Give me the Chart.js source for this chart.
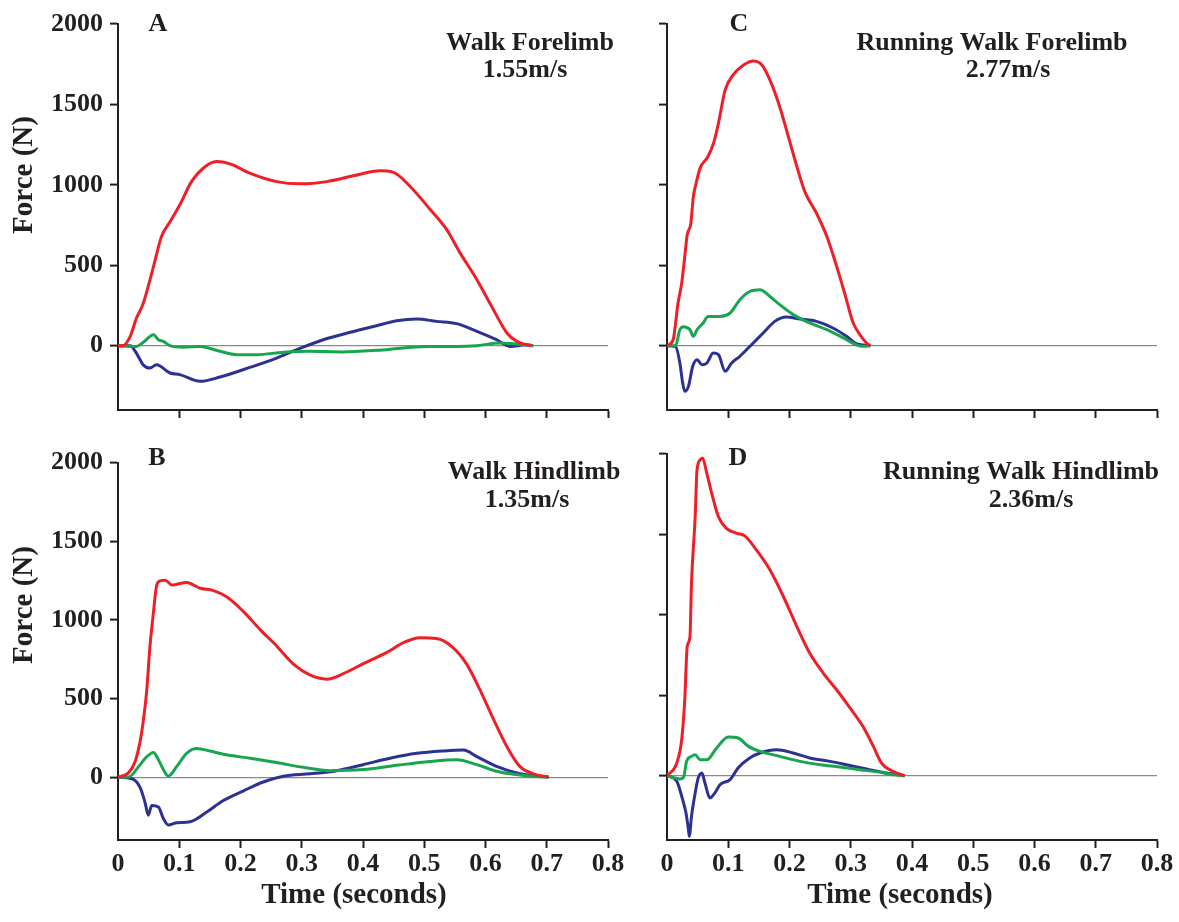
<!DOCTYPE html>
<html><head><meta charset="utf-8">
<script src="https://cdn.jsdelivr.net/npm/chart.js@4.4.1/dist/chart.umd.min.js"></script>
<style>
html,body{margin:0;padding:0;background:#fff;}
#wrap{position:relative;width:1179px;height:922px;overflow:hidden;background:#fff;}
canvas{position:absolute;}
</style></head><body>
<div id="wrap">
<canvas id="cA" width="640" height="440" style="left:0;top:0;width:640px;height:440px"></canvas>
<canvas id="cC" width="539" height="440" style="left:640px;top:0;width:539px;height:440px"></canvas>
<canvas id="cB" width="640" height="482" style="left:0;top:440px;width:640px;height:482px"></canvas>
<canvas id="cD" width="539" height="482" style="left:640px;top:440px;width:539px;height:482px"></canvas>
</div>
<script>
// ---- tick labels ----
const xTickLabels = ['0','0.1','0.2','0.3','0.4','0.5','0.6','0.7','0.8'];
const yTickValues = [0, 500, 1000, 1500, 2000];

// ---- A: Walk Forelimb 1.55 m/s ----
const aRedT = [0,0.008,0.02,0.03,0.041,0.058,0.071,0.085,0.101,0.12,0.139,0.161,0.183,0.215,0.259,0.297,0.341,0.384,0.428,0.449,0.477,0.509,0.537,0.558,0.586,0.613,0.635,0.651,0.665,0.675];
const aRedF = [0,0,58,170,260,493,679,770,876,1020,1103,1145,1130,1073,1020,1006,1020,1056,1087,1079,990,850,720,580,410,224,79,27,8,0];
const aGreenT = [0,0.03,0.041,0.058,0.066,0.074,0.085,0.107,0.134,0.1665,0.194,0.226,0.27,0.313,0.367,0.422,0.465,0.509,0.553,0.586,0.624,0.646,0.678];
const aGreenF = [0,-5,20,68,37,27,0,-10,-5,-35,-56,-56,-41,-35,-39,-29,-15,-5,-5,0,17,12,0];
const aBlueT = [0,0.02,0.03,0.041,0.052,0.063,0.085,0.101,0.134,0.1665,0.2155,0.259,0.292,0.335,0.379,0.422,0.455,0.488,0.52,0.553,0.586,0.618,0.64,0.666,0.678];
const aBlueF = [0,0,-46,-118,-139,-118,-170,-180,-222,-195,-135,-77,-25,37,83,124,155,166,151,137,89,37,-5,5,0];

// ---- C: Running Walk Forelimb 2.77 m/s ----
const cRedT = [0,0.01,0.018,0.024,0.029,0.033,0.039,0.043,0.047,0.054,0.067,0.076,0.084,0.095,0.108,0.125,0.141,0.155,0.168,0.184,0.195,0.212,0.225,0.244,0.261,0.277,0.29,0.304,0.315,0.325,0.332];
const cRedF = [0,37,265,389,555,689,762,927,1000,1104,1176,1259,1383,1590,1683,1745,1770,1745,1652,1486,1342,1114,958,824,679,493,327,141,68,20,0];
const cGreenT = [0,0.014,0.021,0.027,0.0375,0.043,0.049,0.059,0.067,0.086,0.103,0.119,0.135,0.152,0.168,0.184,0.206,0.233,0.261,0.288,0.309,0.32,0.332];
const cGreenF = [0,0,99,118,99,58,99,141,182,182,203,286,337,348,306,255,193,141,99,48,5,-4,0];
const cBlueT = [0,0.014,0.021,0.0256,0.029,0.035,0.042,0.049,0.057,0.065,0.0755,0.084,0.095,0.1055,0.119,0.138,0.157,0.176,0.195,0.217,0.244,0.271,0.293,0.309,0.32,0.332];
const cBlueF = [0,-5,-108,-232,-284,-253,-128,-87,-118,-108,-46,-56,-159,-108,-66,6,79,151,178,166,151,110,58,12,5,0];

// ---- B: Walk Hindlimb 1.35 m/s ----
const bRedT = [0,0.017,0.028,0.036,0.041,0.047,0.052,0.058,0.063,0.069,0.077,0.088,0.112,0.134,0.156,0.178,0.205,0.232,0.259,0.286,0.314,0.341,0.368,0.4,0.439,0.466,0.493,0.52,0.547,0.569,0.591,0.613,0.635,0.656,0.678,0.703];
const bRedF = [0,27,99,224,348,555,824,1052,1217,1248,1252,1222,1238,1201,1186,1145,1052,938,834,720,648,623,658,720,793,855,886,882,824,720,555,368,193,68,21,0];
const bGreenT = [0,0.017,0.036,0.047,0.058,0.066,0.074,0.082,0.096,0.112,0.1285,0.15,0.172,0.2155,0.259,0.3025,0.346,0.4,0.455,0.509,0.553,0.586,0.618,0.64,0.675,0.703];
const bGreenF = [0,0,79,130,157,110,48,6,68,151,182,166,145,120,93,62,41,48,75,99,110,79,37,21,6,0];
const bBlueT = [0,0.025,0.036,0.044,0.0495,0.055,0.066,0.074,0.082,0.096,0.1175,0.145,0.172,0.205,0.237,0.27,0.314,0.357,0.4,0.444,0.488,0.531,0.564,0.586,0.618,0.651,0.686,0.703];
const bBlueF = [0,-14,-66,-159,-242,-180,-190,-263,-304,-290,-284,-222,-149,-87,-31,6,21,41,79,120,151,166,172,130,68,27,6,0];

// ---- D: Running Walk Hindlimb 2.36 m/s ----
const dRedT = [0,0.016,0.024,0.029,0.033,0.0375,0.04,0.046,0.049,0.054,0.058,0.065,0.073,0.084,0.097,0.114,0.127,0.146,0.168,0.19,0.212,0.233,0.255,0.277,0.299,0.32,0.337,0.35,0.369,0.388];
const dRedF = [0,79,224,472,803,865,1197,1610,1900,1963,1975,1880,1756,1610,1538,1507,1491,1404,1280,1114,927,762,638,534,420,306,182,79,27,0];
const dGreenT = [0,0.013,0.021,0.027,0.032,0.04,0.046,0.054,0.065,0.081,0.1,0.116,0.133,0.152,0.184,0.217,0.25,0.282,0.315,0.348,0.369,0.388];
const dGreenF = [0,-14,-20,-10,89,120,130,99,99,172,240,234,182,151,120,89,68,54,37,21,6,0];
const dBlueT = [0,0.016,0.024,0.031,0.035,0.0364,0.04,0.046,0.051,0.057,0.062,0.07,0.078,0.0865,0.103,0.116,0.135,0.152,0.179,0.206,0.233,0.266,0.293,0.326,0.358,0.388];
const dBlueF = [0,-35,-128,-232,-335,-377,-253,-108,-14,17,-46,-139,-108,-56,-25,48,110,141,161,141,110,89,68,41,17,0];

const RED = '#ee1f26', GREEN = '#17a54f', BLUE = '#2c3192';
const INK = '#231f20';
const FONT = "'Liberation Serif','Times New Roman',serif";

function pts(t, f){ return t.map((v,i)=>({x:v, y:f[i]})); }

const textPlugin = {
  id:'panelText',
  afterDraw(chart, args, opts){
    const ctx = chart.ctx;
    (opts.items||[]).forEach(it=>{
      ctx.save();
      ctx.fillStyle = INK;
      ctx.font = 'bold ' + it.size + 'px ' + FONT;
      ctx.textAlign = it.align || 'center';
      ctx.textBaseline = 'middle';
      ctx.translate(it.x, it.y);
      if (it.rot) ctx.rotate(it.rot);
      ctx.fillText(it.text, 0, 0);
      ctx.restore();
    });
  }
};

function makeChart(id, c){
  const datasets = [
    {data: pts(c.red[0], c.red[1]), borderColor: RED},
    {data: pts(c.green[0], c.green[1]), borderColor: GREEN},
    {data: pts(c.blue[0], c.blue[1]), borderColor: BLUE}
  ].map(d=>Object.assign(d,{borderWidth:3, pointRadius:0, fill:false, cubicInterpolationMode:'monotone'}));
  return new Chart(document.getElementById(id), {
    type:'line',
    data:{datasets},
    options:{
      responsive:false, animation:false, devicePixelRatio:1,
      layout:{padding:{left:0, top:c.padTop, right:c.padRight, bottom:0}},
      plugins:{legend:{display:false}, tooltip:{enabled:false}, panelText:{items:c.texts}},
      scales:{
        x:{
          type:'linear', min:0, max:0.8,
          afterBuildTicks(s){ s.ticks = xTickLabels.map((l,i)=>({value:i/10})); },
          afterFit(s){ s.height = c.xHeight; },
          border:{display:true, color:INK, width:2},
          grid:{drawOnChartArea:false, drawTicks:true, tickLength:8, tickWidth:2,
                tickColor:(ctx)=> (ctx.tick && ctx.tick.value===0) ? 'rgba(0,0,0,0)' : INK},
          ticks:{display:c.xLabels, padding:1, color:INK, font:{family:FONT, size:26, weight:'bold'},
                 maxRotation:0, autoSkip:false,
                 callback:(v,i)=>xTickLabels[i]}
        },
        y:{
          type:'linear', min:-400, max:2000,
          afterBuildTicks(s){ s.ticks = yTickValues.map(v=>({value:v})); },
          afterFit(s){ s.width = c.yWidth; },
          border:{display:true, color:INK, width:2},
          grid:{drawOnChartArea:true, drawTicks:true, tickLength:8, tickWidth:2, tickColor:INK,
                color:(ctx)=> (ctx.tick && ctx.tick.value===0) ? '#8a8a8a' : 'rgba(0,0,0,0)',
                lineWidth:1.2},
          ticks:{display:c.yLabels, padding:7, color:INK, font:{family:FONT, size:26, weight:'bold'},
                 autoSkip:false, callback:(v)=>String(v)}
        }
      }
    },
    plugins:[textPlugin]
  });
}

makeChart('cA', {
  red:[aRedT,aRedF], green:[aGreenT,aGreenF], blue:[aBlueT,aBlueF],
  padTop:24, padRight:32, yWidth:118, xHeight:30, xLabels:false, yLabels:true,
  texts:[
    {text:'A', x:158, y:24, size:26},
    {text:'Walk Forelimb', x:530, y:43, size:26},
    {text:'1.55m/s', x:525, y:70, size:26},
    {text:'Force (N)', x:25, y:175, size:29, rot:-Math.PI/2}
  ]
});
makeChart('cC', {
  red:[cRedT,cRedF], green:[cGreenT,cGreenF], blue:[cBlueT,cBlueF],
  padTop:24, padRight:22, yWidth:27, xHeight:30, xLabels:false, yLabels:false,
  texts:[
    {text:'C', x:99, y:24, size:26},
    {text:'Running Walk Forelimb', x:352, y:43, size:26},
    {text:'2.77m/s', x:368, y:70, size:26}
  ]
});
makeChart('cB', {
  red:[bRedT,bRedF], green:[bGreenT,bGreenF], blue:[bBlueT,bBlueF],
  padTop:14, padRight:32, yWidth:118, xHeight:82, xLabels:true, yLabels:true,
  texts:[
    {text:'B', x:157, y:18, size:26},
    {text:'Walk Hindlimb', x:534, y:32, size:26},
    {text:'1.35m/s', x:527, y:60, size:26},
    {text:'Force (N)', x:25, y:165, size:29, rot:-Math.PI/2},
    {text:'Time (seconds)', x:354, y:456, size:29}
  ]
});
makeChart('cD', {
  red:[dRedT,dRedF], green:[dGreenT,dGreenF], blue:[dBlueT,dBlueF],
  padTop:14, padRight:22, yWidth:27, xHeight:82, xLabels:true, yLabels:false,
  texts:[
    {text:'D', x:98, y:18, size:26},
    {text:'Running Walk Hindlimb', x:381, y:32, size:26},
    {text:'2.36m/s', x:391, y:60, size:26},
    {text:'Time (seconds)', x:260, y:456, size:29}
  ]
});
</script>
</body></html>
